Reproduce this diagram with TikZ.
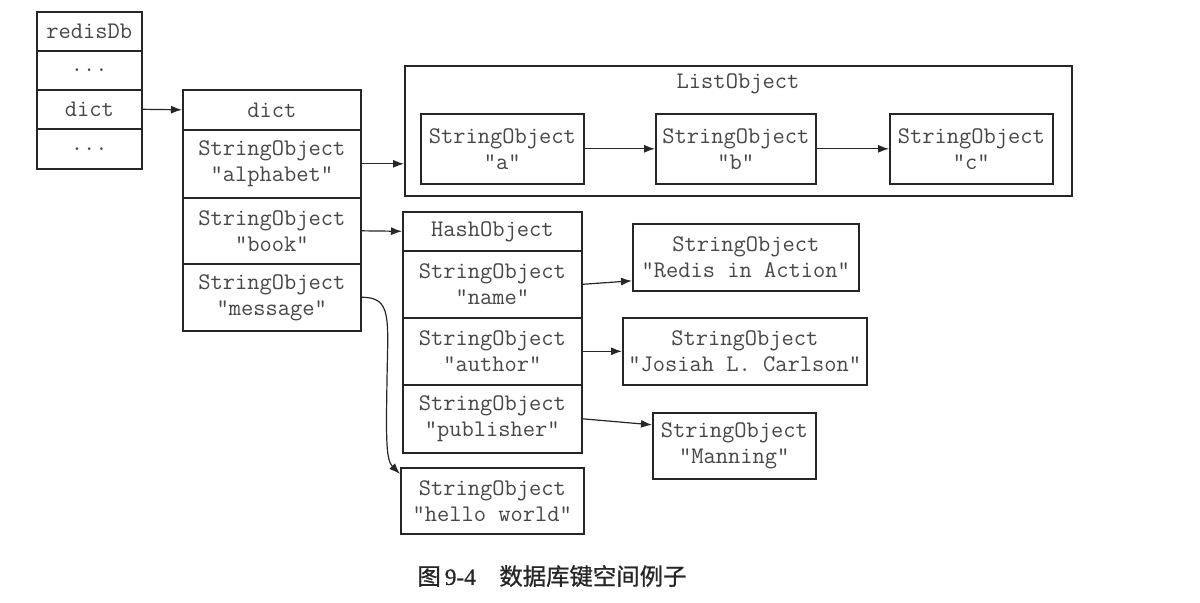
\documentclass[tikz,border=0pt]{standalone}
\usepackage{fontspec}
\newfontfamily\cjk[FakeBold=0.8]{Noto Sans CJK SC}
\newfontfamily\sernum[FakeBold=0.8]{Liberation Serif}
\usetikzlibrary{arrows.meta}
\tikzset{
  monotext/.style={text=black!72, font=\ttfamily\fontsize{11.9}{13}\selectfont},
  cell/.style 2 args={draw=black!85, line width=0.8pt, minimum width=#1*0.5pt, minimum height=#2*0.5pt,
    inner sep=0pt, anchor=north west, align=center, monotext},
  link/.style={draw=black!85, line width=0.6pt, -{Latex[length=5.5pt,width=4pt]}},
}
\begin{document}
\begin{tikzpicture}[x=0.5pt,y=-0.5pt]
\useasboundingbox[fill=white] (0,0) rectangle (1200,602);
% redisDb
\node[cell={105}{39}] (r1) at (36,11) {redisDb};
\node[cell={105}{39}] (r2) at (36,50) {...};
\node[cell={105}{39}] (r3) at (36,89) {dict};
\node[cell={105}{40}] (r4) at (36,128) {...};
% dict
\node[cell={178}{40}] (d0) at (182,89) {dict};
\node[cell={178}{68}] (d1) at (182,129) {StringObject\\"alphabet"};
\node[cell={178}{66}] (d2) at (182,197) {StringObject\\"book"};
\node[cell={178}{67}] (d3) at (182,263) {StringObject\\"message"};
% ListObject
\node[cell={667}{130}] (list) at (404,65) {};
\node[monotext] (listt) at (738,84) {ListObject};
\node[cell={163}{70}] (la) at (420,113) {StringObject\\"a"};
\node[cell={160}{70}] (lb) at (655,113) {StringObject\\"b"};
\node[cell={163}{70}] (lc) at (889,113) {StringObject\\"c"};
% HashObject
\node[cell={179}{39}] (h0) at (402,211) {HashObject};
\node[cell={179}{67}] (h1) at (402,250) {StringObject\\"name"};
\node[cell={179}{67}] (h2) at (402,317) {StringObject\\"author"};
\node[cell={179}{68}] (h3) at (402,384) {StringObject\\"publisher"};
% values
\node[cell={226}{67}] (v1) at (632,223) {StringObject\\"Redis in Action"};
\node[cell={244}{67}] (v2) at (622,317) {StringObject\\"Josiah L. Carlson"};
\node[cell={163}{66}] (v3) at (652,412) {StringObject\\"Manning"};
\node[cell={183}{66}] (hw) at (400,467) {StringObject\\"hello world"};
\coordinate (hwin) at ([yshift=-3.5pt]hw.north west);
% connectors
\draw[link] (r3.east) -- (d0.west);
\draw[link] (d1.east) -- (d1.east -| list.west);
\draw[link] (la.east) -- (lb.west);
\draw[link] (lb.east) -- (lc.west);
\draw[link] (d2.east) -- (h0.west);
\draw[link] (h1.east) -- ([yshift=-11.75pt]v1.west);
\draw[link] (h2.east) -- (v2.west);
\draw[link] (h3.east) -- ([yshift=10.5pt]v3.west);
\draw[link] (d3.east) .. controls (392,297) and (388,318) .. (387,380)
  .. controls (386,440) and (386,460) .. (hwin);
% caption
\node[font=\fontsize{11.7}{14}\selectfont, text=black!85] (cap) at (552,576)
  {{\cjk 图}\,{\sernum 9-4}\hspace{1em}{\cjk 数据库键空间例子}};
\end{tikzpicture}
\end{document}
